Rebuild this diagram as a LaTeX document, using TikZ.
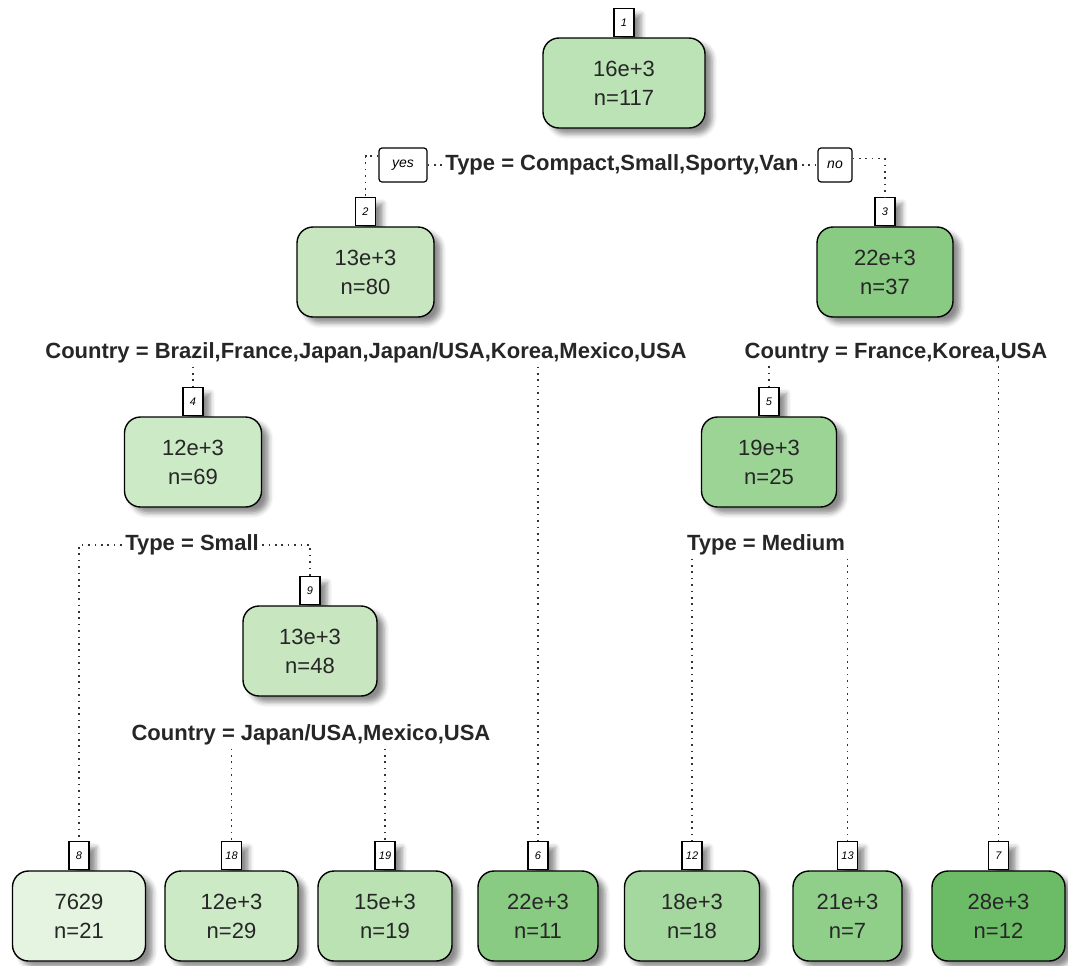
\documentclass[tikz,border=0pt]{standalone}
\usepackage{fontspec}
\setmainfont{Liberation Sans}
\usetikzlibrary{shadows.blur}
\pgfdeclarelayer{back}
\pgfsetlayers{back,main}

% fill colours of the fitted values, light to dark
\definecolor{g7629}{HTML}{E5F4E0}
\definecolor{g12}{HTML}{CDEAC7}
\definecolor{g13}{HTML}{C8E7C1}
\definecolor{g15}{HTML}{BAE2B3}
\definecolor{g16}{HTML}{BCE3B6}
\definecolor{g18}{HTML}{A4D89E}
\definecolor{g19}{HTML}{9CD496}
\definecolor{g21}{HTML}{90CF8A}
\definecolor{g22}{HTML}{89CB83}
\definecolor{g28}{HTML}{6CBC67}

\begin{document}
\begin{tikzpicture}[x=0.5pt,y=-0.5pt,
  shade/.style={blur shadow={shadow xshift=3.5pt, shadow yshift=-3pt,
      shadow blur radius=2.5pt, shadow opacity=45}},
  leaf/.style={draw=black, line width=0.7pt, rounded corners=8pt,
      minimum height=45pt, align=center, inner sep=0pt, text=black!85,
      font=\fontsize{11}{14.5}\selectfont, shade},
  num/.style={draw=black, line width=0.6pt, fill=white, anchor=south,
      minimum width=10pt, minimum height=14pt, inner sep=0pt,
      font=\fontsize{5.5}{6}\selectfont\itshape, shade},
  yesno/.style={draw=black, line width=0.6pt, fill=white, rounded corners=1.5pt,
      minimum height=17pt, inner xsep=3pt, font=\fontsize{7}{8}\selectfont\itshape},
  split/.style={font=\bfseries\fontsize{11}{13}\selectfont, inner sep=1.5pt, text=black!85},
  dotline/.style={line width=0.8pt, dash pattern=on 0.8pt off 2.4pt, black!80},
]
\useasboundingbox (0,0) rectangle (1068,965);

% tree nodes: fitted value and count
\node[leaf, fill=g16,   minimum width=81pt]   (b1)  at (624,83)    {16e+3\\n=117};
\node[leaf, fill=g13,   minimum width=68.5pt] (b2)  at (365.5,272) {13e+3\\n=80};
\node[leaf, fill=g22,   minimum width=68pt]   (b3)  at (885,272)   {22e+3\\n=37};
\node[leaf, fill=g12,   minimum width=68.5pt] (b4)  at (193,462)   {12e+3\\n=69};
\node[leaf, fill=g19,   minimum width=67.5pt] (b5)  at (769,462)   {19e+3\\n=25};
\node[leaf, fill=g13,   minimum width=67pt]   (b9)  at (310,651)   {13e+3\\n=48};
\node[leaf, fill=g7629, minimum width=66.5pt] (b8)  at (79,916)    {7629\\n=21};
\node[leaf, fill=g12,   minimum width=66.5pt] (b18) at (231.5,916) {12e+3\\n=29};
\node[leaf, fill=g15,   minimum width=67pt]   (b19) at (385,916)   {15e+3\\n=19};
\node[leaf, fill=g22,   minimum width=60pt]   (b6)  at (538,916)   {22e+3\\n=11};
\node[leaf, fill=g18,   minimum width=67.5pt] (b12) at (692,916)   {18e+3\\n=18};
\node[leaf, fill=g21,   minimum width=54.5pt] (b13) at (847.5,916) {21e+3\\n=7};
\node[leaf, fill=g28,   minimum width=66.5pt] (b7)  at (998.5,916) {28e+3\\n=12};

% node numbers on top of each box
\begin{pgfonlayer}{back}
\foreach \n in {1,2,3,4,5,9,8,18,19,6,12,13,7}
  \node[num] (l\n) at (b\n.north) {\n};
\end{pgfonlayer}

% split labels
\node[split] (s1) at (622,165) {Type = Compact,Small,Sporty,Van};
\node[yesno, minimum width=24pt] (yes) at (403,165) {yes};
\node[yesno, minimum width=17pt] (no)  at (835,165) {no};
\node[split] (s2) at (366,353) {Country = Brazil,France,Japan,Japan/USA,Korea,Mexico,USA};
\node[split] (s3) at (896,353) {Country = France,Korea,USA};
\node[split] (s4) at (192,545) {Type = Small};
\node[split] (s6) at (766,545) {Type = Medium};
\node[split] (s5) at (311,735) {Country = Japan/USA,Mexico,USA};

% dotted branches
\draw[dotline] (yes.160) -| (l2.north);
\draw[dotline] (no.20) -| (l3.north);
\draw[dotline] (yes.east) -- (s1.west);
\draw[dotline] (s1.east) -- (no.west);
\draw[dotline] (s2.south -| l4.north) -- (l4.north);
\draw[dotline] (s2.south -| l6.north) -- (l6.north);
\draw[dotline] (s3.south -| l5.north) -- (l5.north);
\draw[dotline] (s3.south -| l7.north) -- (l7.north);
\draw[dotline] (s4.west) -| (l8.north);
\draw[dotline] (s4.east) -| (l9.north);
\draw[dotline] (s6.south -| l12.north) -- (l12.north);
\draw[dotline] (s6.south -| l13.north) -- (l13.north);
\draw[dotline] (s5.south -| l18.north) -- (l18.north);
\draw[dotline] (s5.south -| l19.north) -- (l19.north);
\end{tikzpicture}
\end{document}
